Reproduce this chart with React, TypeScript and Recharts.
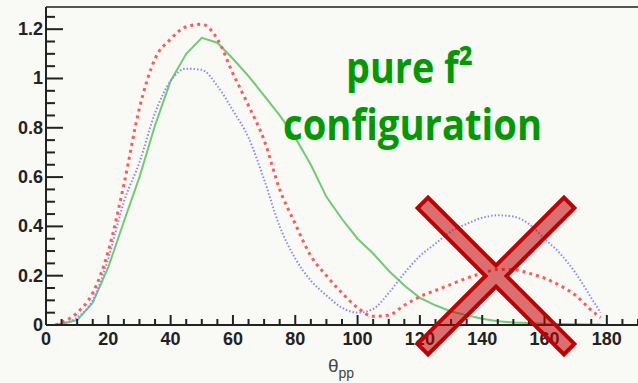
import { LineChart, Line, XAxis, YAxis, ReferenceLine } from "recharts";

// theta_pp (deg) and the three curves
const theta = [3, 5, 10, 15, 20, 25, 30, 35, 40, 45, 50, 55, 60, 65, 70, 75, 80, 85, 90, 95, 100, 105, 110, 115, 120, 125, 130, 135, 140, 145, 150, 155, 160, 165, 170, 175, 178];
const greenVals = [0, 0.005, 0.02, 0.09, 0.235, 0.42, 0.6, 0.81, 0.99, 1.1, 1.165, 1.145, 1.08, 1.01, 0.93, 0.85, 0.76, 0.65, 0.52, 0.43, 0.35, 0.29, 0.22, 0.16, 0.11, 0.08, 0.055, 0.04, 0.025, 0.015, 0.01, 0.008, 0.005, 0.004, 0.003, 0.002, 0.002];
const redVals = [0, 0.01, 0.05, 0.13, 0.3, 0.57, 0.88, 1.08, 1.16, 1.21, 1.22, 1.16, 1.02, 0.89, 0.75, 0.55, 0.41, 0.28, 0.2, 0.13, 0.07, 0.035, 0.04, 0.08, 0.115, 0.14, 0.165, 0.19, 0.21, 0.225, 0.225, 0.21, 0.19, 0.16, 0.12, 0.06, 0.03];
const blueVals = [0, 0.005, 0.03, 0.1, 0.27, 0.5, 0.66, 0.86, 0.99, 1.04, 1.035, 0.97, 0.87, 0.76, 0.59, 0.4, 0.27, 0.18, 0.12, 0.07, 0.05, 0.065, 0.13, 0.21, 0.28, 0.33, 0.38, 0.41, 0.435, 0.445, 0.44, 0.41, 0.35, 0.29, 0.21, 0.11, 0.05];

const xLabels = [0, 20, 40, 60, 80, 100, 120, 140, 160, 180];
const yLabels = [0, 0.2, 0.4, 0.6, 0.8, 1, 1.2];

const xTicks = Array.from({ length: 39 }, (_, i) => i * 5);
const yTicks = Array.from({ length: 26 }, (_, i) => Math.round(i * 5) / 100);

const data = theta.map((t, i) => ({
  theta: t,
  green: greenVals[i],
  red: redVals[i],
  blue: blueVals[i],
}));

const isMajor = (list: number[], v: number) => list.some((m) => Math.abs(m - v) < 1e-6);

const YTick = (props: any) => {
  const { x, y, payload } = props;
  const major = isMajor(yLabels, payload.value);
  return (
    <g>
      <line x1={x} x2={x + (major ? 17 : 9)} y1={y} y2={y} stroke="#222" strokeWidth={2} />
      {major && (
        <text x={x - 3} y={y} dy={6} textAnchor="end" fontSize={18} fontWeight="bold" fill="#222" fontFamily="Liberation Sans, Arial">
          {String(payload.value)}
        </text>
      )}
    </g>
  );
};

const XTick = (props: any) => {
  const { x, y, payload } = props;
  const major = isMajor(xLabels, payload.value);
  return (
    <g>
      <line x1={x} x2={x} y1={y} y2={y - (major ? 10 : 6)} stroke="#222" strokeWidth={2} />
      {major && (
        <text x={x} y={y + 20} textAnchor="middle" fontSize={18} fontWeight="bold" fill="#222" fontFamily="Liberation Sans, Arial">
          {String(payload.value)}
        </text>
      )}
    </g>
  );
};

// big red cross drawn over the right part of the plot
const crossPoints = () => {
  const L = 103.5;
  const w = 7.4;
  const local = [
    [w, w], [L, w], [L, -w], [w, -w], [w, -L], [-w, -L],
    [-w, -w], [-L, -w], [-L, w], [-w, w], [-w, L], [w, L],
  ];
  const c = Math.SQRT1_2;
  return local
    .map(([px, py]) => `${496 + (px - py) * c},${276 + (px + py) * c}`)
    .join(" ");
};

export default function App() {
  return (
    <div style={{ position: "absolute", left: 0, top: 0, width: 638, height: 383, background: "#f9f9f6", overflow: "hidden" }}>
      <LineChart width={638} height={383} data={data} margin={{ top: 7, right: 0, bottom: 0, left: 0 }}>
        <XAxis
          dataKey="theta"
          type="number"
          domain={[0, 190]}
          ticks={xTicks}
          interval={0}
          height={58}
          tickSize={0}
          tickMargin={0}
          tickLine={false}
          axisLine={{ stroke: "#222", strokeWidth: 2 }}
          tick={<XTick />}
        />
        <YAxis
          type="number"
          domain={[0, 1.29]}
          ticks={yTicks}
          interval={0}
          width={46}
          tickSize={0}
          tickMargin={0}
          tickLine={false}
          axisLine={{ stroke: "#222", strokeWidth: 2 }}
          tick={<YTick />}
          allowDataOverflow
        />
        <ReferenceLine y={1.29} stroke="#555" strokeWidth={2} />
        <Line dataKey="green" type="linear" stroke="#70cc70" strokeWidth={2} dot={false} isAnimationActive={false} />
        <Line dataKey="blue" type="monotone" stroke="#8888ff" strokeWidth={2} strokeDasharray="1.5 2" dot={false} isAnimationActive={false} />
        <Line dataKey="red" type="monotone" stroke="#ff5a5a" strokeWidth={3} strokeDasharray="3 4" dot={false} isAnimationActive={false} />
      </LineChart>
      <svg width={638} height={383} style={{ position: "absolute", left: 0, top: 0, pointerEvents: "none" }}>
        <text x={346} y={83} fontSize={43} fontWeight="bold" fill="#009a00" fontFamily="Open Sans" textLength={127} lengthAdjust="spacingAndGlyphs">
          pure f²
        </text>
        <text x={283} y={140} fontSize={43} fontWeight="bold" fill="#009a00" fontFamily="Open Sans" textLength={259} lengthAdjust="spacingAndGlyphs">
          configuration
        </text>
        <polygon points={crossPoints()} fill="rgba(192,0,0,0.55)" stroke="#c00000" strokeWidth={4} strokeLinejoin="miter" />
        <text x={328} y={372} fontSize={19} fill="#444" fontFamily="Liberation Sans, Arial">
          θ
          <tspan fontSize={14} dy={6}>pp</tspan>
        </text>
      </svg>
    </div>
  );
}
